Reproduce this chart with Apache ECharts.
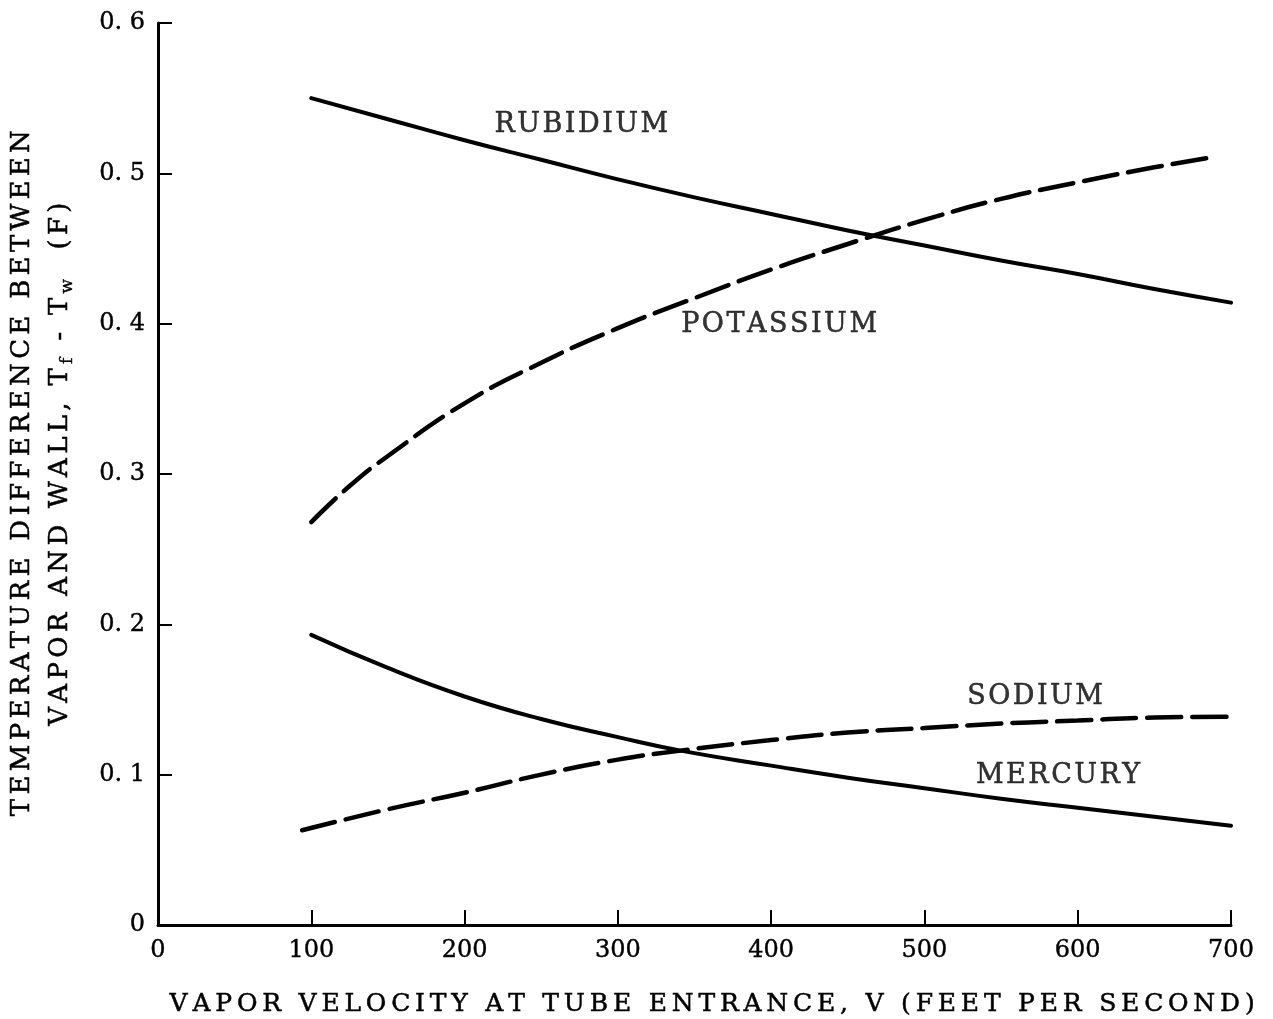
<!DOCTYPE html>
<html>
<head>
<meta charset="utf-8">
<script src="https://cdn.jsdelivr.net/npm/echarts@6/dist/echarts.min.js"></script>
<style>
  html, body { margin: 0; padding: 0; background: #fff; }
  #chart { width: 1273px; height: 1019px; }
</style>
</head>
<body>
<div id="chart"></div>
<script>
// velocity (ft/s), temperature difference (F)
const rubidium = [[100, 0.550], [150, 0.536], [200, 0.522], [250, 0.509], [300, 0.496], [350, 0.484],
  [400, 0.473], [450, 0.462], [500, 0.452], [550, 0.442], [600, 0.433], [650, 0.423], [700, 0.414]];
const potassium = [[100, 0.268], [125, 0.292], [150, 0.312], [200, 0.347], [250, 0.374], [300, 0.397],
  [350, 0.417], [400, 0.436], [450, 0.453], [500, 0.469], [550, 0.483], [600, 0.494], [650, 0.504], [690, 0.511]];
const sodium = [[94, 0.063], [150, 0.077], [200, 0.088], [250, 0.100], [300, 0.110], [341, 0.116],
  [400, 0.123], [450, 0.128], [500, 0.131], [550, 0.134], [600, 0.136], [650, 0.138], [700, 0.1385]];
const mercury = [[100, 0.193], [150, 0.171], [200, 0.152], [250, 0.137], [300, 0.125], [341, 0.116],
  [400, 0.106], [450, 0.098], [500, 0.091], [550, 0.084], [600, 0.078], [650, 0.072], [700, 0.066]];

const curveNames = ['RUBIDIUM', 'POTASSIUM', 'SODIUM', 'MERCURY'];
const curveLabelAt = [[277, 0.532], [406, 0.399], [573, 0.152], [588, 0.099]];

const xTitle = 'VAPOR VELOCITY AT TUBE ENTRANCE, V (FEET PER SECOND)';
const yTitle1 = 'TEMPERATURE DIFFERENCE BETWEEN';

const FONT = '"DejaVu Serif", "Liberation Serif", serif';
const INK = '#000';

// spread letters like the typewritten original
function track(str, key) {
  return str.split('').map(c => '{' + key + '|' + c + '}').join('');
}

const chart = echarts.init(document.getElementById('chart'));

const dash = [34, 11];
function curve(name, data, dashed) {
  return {
    name: name,
    type: 'line',
    data: data,
    smooth: true,
    showSymbol: false,
    silent: true,
    lineStyle: { color: INK, width: dashed ? 4.5 : 4, type: dashed ? dash : 'solid', cap: 'round' }
  };
}

const yTitle2 = track('VAPOR AND WALL, T', 'a') + '{s|f}' + track(' - T', 'a') + '{s|w}' + track('  (F)', 'a');

chart.setOption({
  animation: false,
  backgroundColor: '#fff',
  grid: { left: 158, right: 42, top: 23, bottom: 94, outerBoundsMode: 'none' },
  xAxis: {
    type: 'value',
    min: 0,
    max: 700,
    interval: 100,
    name: track(xTitle, 't'),
    nameLocation: 'middle',
    nameGap: 67,
    nameTextStyle: {
      padding: [0, 0, 0, 40],
      rich: { t: { fontFamily: FONT, fontSize: 25, color: INK, textBorderColor: INK, textBorderWidth: 0.5, padding: [0, 4.8, 0, 0] } }
    },
    axisLine: { show: true, onZero: false, lineStyle: { color: INK, width: 3 } },
    axisTick: { show: true, inside: true, length: 15, lineStyle: { color: INK, width: 2 } },
    axisLabel: { fontFamily: FONT, fontSize: 24, color: INK, textBorderColor: INK, textBorderWidth: 0.4, margin: 14 },
    splitLine: { show: false }
  },
  yAxis: {
    type: 'value',
    min: 0,
    max: 0.6,
    interval: 0.1,
    axisLine: { show: true, onZero: false, lineStyle: { color: INK, width: 3 } },
    axisTick: { show: true, inside: true, length: 14, lineStyle: { color: INK, width: 2 } },
    axisLabel: {
      fontFamily: FONT, fontSize: 24, color: INK, textBorderColor: INK, textBorderWidth: 0.4, margin: 13,
      formatter: v => v === 0 ? '0' : v.toFixed(1).replace('.', '. ')
    },
    splitLine: { show: false }
  },
  graphic: [
    {
      type: 'text',
      x: 22,
      y: 471,
      rotation: Math.PI / 2,
      silent: true,
      style: {
        text: track(yTitle1, 'a'),
        textAlign: 'center',
        textVerticalAlign: 'middle',
        rich: { a: { fontFamily: FONT, fontSize: 26, fill: INK, stroke: INK, lineWidth: 0.5, padding: [0, 4.3, 0, 0] } }
      }
    },
    {
      type: 'text',
      x: 62,
      y: 462,
      rotation: Math.PI / 2,
      silent: true,
      style: {
        text: yTitle2,
        textAlign: 'center',
        textVerticalAlign: 'middle',
        rich: {
          a: { fontFamily: FONT, fontSize: 26, fill: INK, stroke: INK, lineWidth: 0.5, padding: [0, 4.3, 0, 0], lineHeight: 30, verticalAlign: 'top' },
          s: { fontFamily: FONT, fontSize: 17, fill: INK, stroke: INK, lineWidth: 0.4, padding: [12, 4.3, 0, 0], lineHeight: 22, verticalAlign: 'top' }
        }
      }
    }
  ],
  series: [
    curve('Rubidium', rubidium, false),
    curve('Potassium', potassium, true),
    curve('Sodium', sodium, true),
    curve('Mercury', mercury, false),
    {
      type: 'scatter',
      silent: true,
      symbolSize: 1,
      itemStyle: { color: 'rgba(0,0,0,0)' },
      data: curveNames.map((n, i) => ({ name: n, value: curveLabelAt[i] })),
      label: {
        show: true,
        position: 'inside',
        formatter: p => track(p.name, 'n'),
        rich: { n: { fontFamily: FONT, fontSize: 27, color: INK, textBorderColor: INK, textBorderWidth: 0.5, padding: [0, 2.5, 0, 0] } }
      }
    }
  ]
});
</script>
</body>
</html>
